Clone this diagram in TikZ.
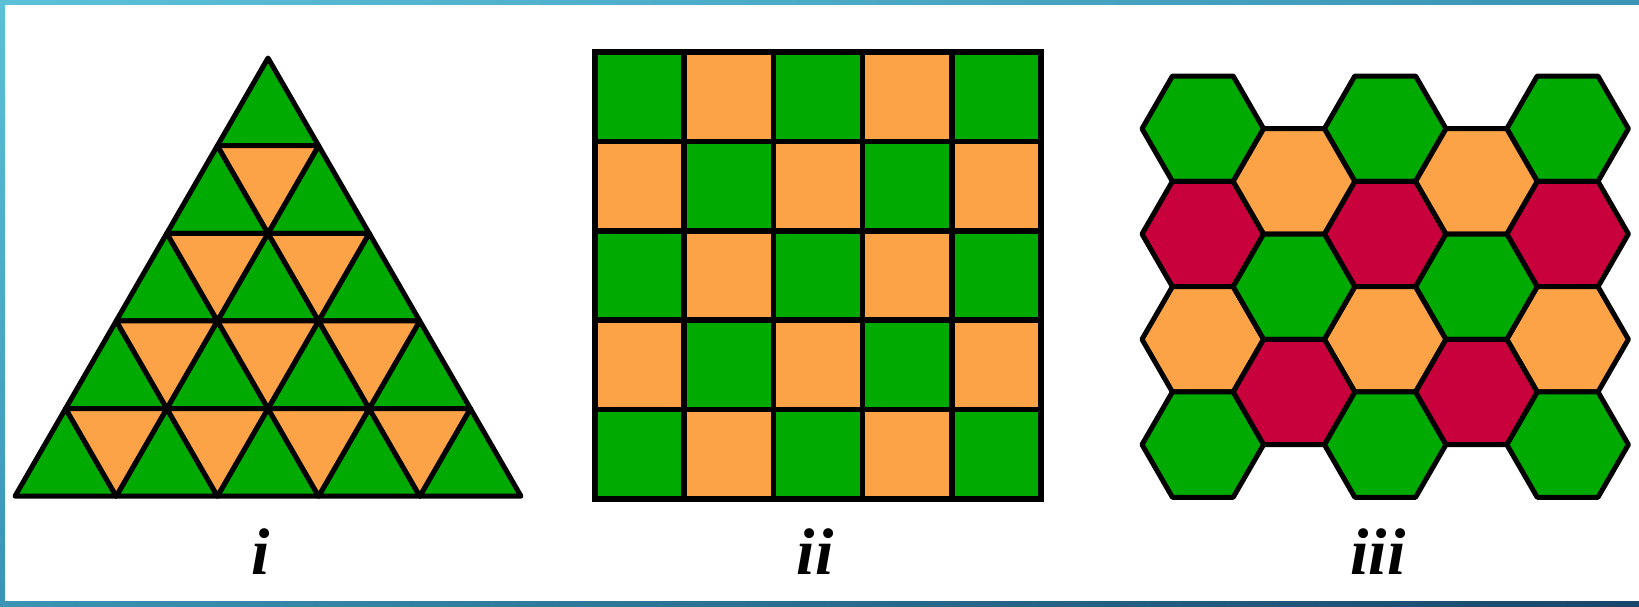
\documentclass[tikz,border=0pt]{standalone}
\usepackage{fontspec}
\setmainfont{Liberation Serif}
\definecolor{tgreen}{RGB}{0,170,0}
\definecolor{torange}{RGB}{252,163,72}
\definecolor{tred}{RGB}{200,0,60}
\definecolor{blight}{RGB}{92,192,216}
\definecolor{bmid}{RGB}{58,148,180}
\definecolor{bdark}{RGB}{24,70,108}
\tikzset{
  cell/.style={draw=black,line width=5pt,line join=round},
  lab/.style={anchor=base,inner sep=0pt,font=\fontsize{66}{66}\selectfont\bfseries\itshape}
}
\begin{document}
\begin{tikzpicture}[x=1pt,y=-1pt]
\useasboundingbox (0,0) rectangle (1639,606);
\fill[white] (0,0) rectangle (1639,606);
% frame strips
\shade[left color=blight,right color=bmid] (0,0) rectangle (1639,4);
\shade[top color=blight,bottom color=bmid] (0,0) rectangle (5,606);
\shade[left color=bmid,right color=bdark] (0,601) rectangle (1639,606);
% ---------- triangle ----------
\def\ax{268}\def\ay{58}\def\ta{101.2}\def\th{87.64}
\foreach \r in {0,...,4}{
  \foreach \j in {0,...,\r}{
    \pgfmathsetmacro\px{\ax-\r*\ta/2+\j*\ta}
    \pgfmathsetmacro\pyt{\ay+\r*\th}
    \pgfmathsetmacro\pyb{\ay+(\r+1)*\th}
    \filldraw[cell,fill=tgreen] (\px,\pyt) -- (\px-\ta/2,\pyb) -- (\px+\ta/2,\pyb) -- cycle;
  }
}
\foreach \r in {1,...,4}{
  \pgfmathtruncatemacro\rm{\r-1}
  \foreach \j in {0,...,\rm}{
    \pgfmathsetmacro\px{\ax-\r*\ta/2+\j*\ta}
    \pgfmathsetmacro\pyt{\ay+\r*\th}
    \pgfmathsetmacro\pyb{\ay+(\r+1)*\th}
    \filldraw[cell,fill=torange] (\px,\pyt) -- (\px+\ta,\pyt) -- (\px+\ta/2,\pyb) -- cycle;
  }
}
% ---------- squares ----------
\def\sx{595}\def\sy{52}\def\cw{89.2}\def\chh{89.4}
\foreach \i in {0,...,4}{
  \foreach \j in {0,...,4}{
    \pgfmathtruncatemacro\parity{mod(\i+\j,2)}
    \ifnum\parity=0 \def\cc{tgreen}\else\def\cc{torange}\fi
    \filldraw[cell,line width=5.6pt,line join=miter,fill=\cc]
      (\sx+\i*\cw,\sy+\j*\chh) rectangle (\sx+\i*\cw+\cw,\sy+\j*\chh+\chh);
  }
}
% ---------- hexagons ----------
\def\hs{60.8}\def\hx{1202.8}\def\hy{128.7}\def\hh{105.3}
\foreach \c in {0,2,4}{
  \foreach \r/\col in {0/tgreen,1/tred,2/torange,3/tgreen}{
    \pgfmathsetmacro\cx{\hx+\c*1.5*\hs}
    \pgfmathsetmacro\cy{\hy+\r*\hh}
    \filldraw[cell,fill=\col] (\cx+\hs,\cy) -- (\cx+\hs/2,\cy-\hh/2) -- (\cx-\hs/2,\cy-\hh/2)
      -- (\cx-\hs,\cy) -- (\cx-\hs/2,\cy+\hh/2) -- (\cx+\hs/2,\cy+\hh/2) -- cycle;
  }
}
\foreach \c in {1,3}{
  \foreach \r/\col in {0/torange,1/tgreen,2/tred}{
    \pgfmathsetmacro\cx{\hx+\c*1.5*\hs}
    \pgfmathsetmacro\cy{\hy+\hh/2+\r*\hh}
    \filldraw[cell,fill=\col] (\cx+\hs,\cy) -- (\cx+\hs/2,\cy-\hh/2) -- (\cx-\hs/2,\cy-\hh/2)
      -- (\cx-\hs,\cy) -- (\cx-\hs/2,\cy+\hh/2) -- (\cx+\hs/2,\cy+\hh/2) -- cycle;
  }
}
% ---------- labels ----------
\node[lab] (li) at (261,574) {i};
\node[lab] (lii) at (815,574) {ii};
\node[lab] (liii) at (1378,574) {iii};
\end{tikzpicture}
\end{document}
